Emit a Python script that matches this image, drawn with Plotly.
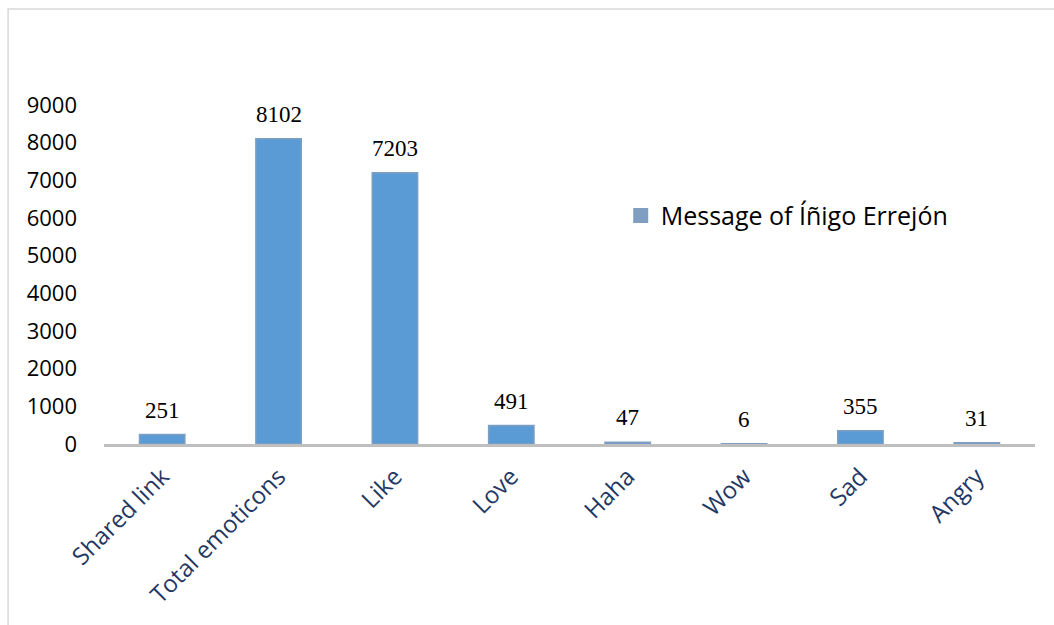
import plotly.graph_objects as go

categories = ["Shared link", "Total emoticons", "Like", "Love", "Haha", "Wow", "Sad", "Angry"]
values = [251, 8102, 7203, 491, 47, 6, 355, 31]
series_name = "Message of Íñigo Errejón"
y_ticks = [0, 1000, 2000, 3000, 4000, 5000, 6000, 7000, 8000, 9000]

fig = go.Figure()
fig.add_trace(go.Bar(
    x=categories,
    y=values,
    name=series_name,
    marker=dict(color="#5b9bd5", line=dict(color="#7f9fc2", width=1.5)),
    showlegend=False,
))

# legend key: a larger muted square swatch for the series
fig.add_trace(go.Scatter(
    x=[None], y=[None], mode="markers", name=series_name,
    marker=dict(symbol="square", size=15, color="#7f9fc2"),
    showlegend=True,
))

# value labels above each bar
for c, v in zip(categories, values):
    fig.add_annotation(
        x=c, y=v, text=str(v), showarrow=False,
        yanchor="bottom", yshift=10,
        font=dict(family="Liberation Serif", size=23, color="#000000"),
    )

# light frame around the chart area
fig.add_shape(type="rect", xref="paper", yref="paper",
              x0=-0.103, x1=1.1, y0=-0.6, y1=1.283,
              line=dict(color="#d9d9d9", width=1.5), layer="below")

fig.update_layout(
    width=1054, height=625,
    margin=dict(l=104, r=19, t=105, b=181),
    paper_bgcolor="white", plot_bgcolor="white",
    bargap=0.61,
    font=dict(family="Open Sans"),
    legend=dict(x=0.555, y=0.673, xanchor="left", yanchor="middle",
                font=dict(family="Open Sans", size=25, color="#000000"),
                bgcolor="rgba(0,0,0,0)", itemwidth=30),
    xaxis=dict(showline=True, linecolor="#bfbfbf", linewidth=3,
               tickangle=-45, ticks="", ticklabelstandoff=6,
               tickfont=dict(family="Open Sans", size=24, color="#1f3864"),
               showgrid=False),
    yaxis=dict(range=[0, 9000], tickvals=y_ticks, showgrid=False,
               zeroline=False, showline=False,
               tickfont=dict(family="Open Sans", size=22, color="#000000"),
               ticklen=0, ticks="", ticklabelstandoff=26),
)

fig.write_html("out.html")
